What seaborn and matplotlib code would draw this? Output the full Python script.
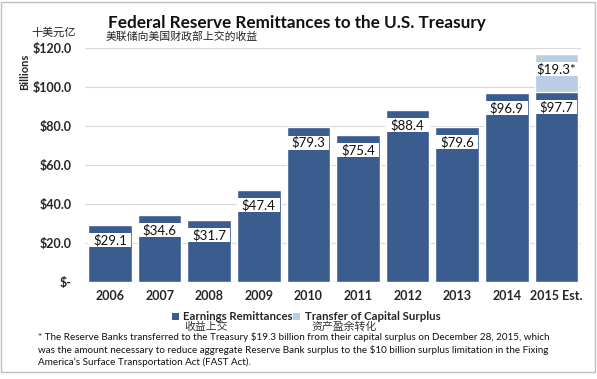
import matplotlib
matplotlib.use("Agg")
import matplotlib.pyplot as plt
import seaborn as sns
import pandas as pd
from matplotlib.patches import Rectangle

years = ["2006", "2007", "2008", "2009", "2010", "2011", "2012", "2013", "2014", "2015 Est."]
earnings = [29.1, 34.6, 31.7, 47.4, 79.3, 75.4, 88.4, 79.6, 96.9, 97.7]
surplus = [0, 0, 0, 0, 0, 0, 0, 0, 0, 19.3]
yticks = [0, 20, 40, 60, 80, 100, 120]
ytick_labels = ["$-", "$20.0", "$40.0", "$60.0", "$80.0", "$100.0", "$120.0"]

sns.set_theme(style="white")
plt.rcParams['font.family'] = ['Lato', 'Noto Sans CJK SC', 'DejaVu Sans']

dark = "#3B5C8F"
light = "#B9CDE5"

df = pd.DataFrame({"year": years, "earnings": earnings, "surplus": surplus})
df["total"] = df["earnings"] + df["surplus"]

fig = plt.figure(figsize=(5.97, 3.79), dpi=100)
ax = fig.add_axes([0.1427, 0.256, 0.831, 0.617])

sns.barplot(data=df, x="year", y="total", color=light, saturation=1, width=0.88, ax=ax, zorder=2)
sns.barplot(data=df, x="year", y="earnings", color=dark, saturation=1, width=0.88, ax=ax, zorder=3)

ax.set_xlim(-0.5, len(years) - 0.5)
ax.set_ylim(0, 120)
ax.set_yticks(yticks)
ax.set_yticklabels(ytick_labels, fontsize=9, fontweight="bold")
ax.set_xticks(range(len(years)))
ax.set_xticklabels(years, fontsize=9, fontweight="bold")
ax.tick_params(axis="y", length=0, pad=9.5)
ax.tick_params(axis="x", length=0, pad=6)
ax.set_xlabel("")
ax.set_ylabel("")
ax.yaxis.grid(True, color="#D9D9D9", linewidth=0.8, zorder=0)
ax.set_axisbelow(True)
for s in ax.spines.values():
    s.set_visible(False)

labels = []
for i, (e, sp) in enumerate(zip(earnings, surplus)):
    labels.append(ax.text(i, e - 7.8, f"${e}", ha="center", va="center", fontsize=9.5,
                          color="#111111", zorder=6))
    if sp > 0:
        labels.append(ax.text(i, e + sp - 7.8, f"${sp}*", ha="center", va="center", fontsize=9.5,
                              color="#111111", zorder=6))

# white label boxes sized to the text
fig.canvas.draw()
renderer = fig.canvas.get_renderer()
inv = ax.transData.inverted()
for t in labels:
    bb = t.get_window_extent(renderer)
    cx, cy = t.get_position()
    x0, _ = inv.transform((bb.x0 - 4, 0))
    x1, _ = inv.transform((bb.x1 + 4, 0))
    _, ycpix = ax.transData.transform((cx, cy))
    _, y0 = inv.transform((0, ycpix - 7))
    _, y1 = inv.transform((0, ycpix + 7))
    ax.add_patch(Rectangle((x0, y0), x1 - x0, y1 - y0, facecolor="white", edgecolor="none", zorder=5))

fig.text(0.497, 0.94, "Federal Reserve Remittances to the U.S. Treasury", ha="center", va="center",
         fontsize=12.3, fontweight="bold", color="#111111")
fig.text(0.176, 0.905, "美联储向美国财政部上交的收益", ha="left", va="center", fontsize=7.8, color="#222222")
fig.text(0.09, 0.915, "十美元亿", ha="center", va="center", fontsize=8, color="#222222")
fig.text(0.042, 0.81, "Billions", ha="center", va="center", rotation=90, fontsize=8, fontweight="bold")

# legend
fig.patches.append(Rectangle((0.288, 0.156), 0.0117, 0.0185, transform=fig.transFigure, facecolor=dark, edgecolor="none"))
fig.text(0.3065, 0.166, "Earnings Remittances", ha="left", va="center", fontsize=8.2, fontweight="bold")
fig.text(0.308, 0.139, "收益上交", ha="left", va="center", fontsize=7.8, color="#333333")
fig.patches.append(Rectangle((0.491, 0.156), 0.0117, 0.0185, transform=fig.transFigure, facecolor=light, edgecolor="none"))
fig.text(0.511, 0.166, "Transfer of Capital Surplus", ha="left", va="center", fontsize=8.2, fontweight="bold")
fig.text(0.522, 0.139, "资产盈余转化", ha="left", va="center", fontsize=7.8, color="#333333")

foot = ("* The Reserve Banks transferred to the Treasury $19.3 billion from their capital surplus on December 28, 2015, which\n"
        "was the amount necessary to reduce aggregate Reserve Bank surplus to the $10 billion surplus limitation in the Fixing\n"
        "America\u2019s Surface Transportation Act (FAST Act).")
fig.text(0.064, 0.078, foot, ha="left", va="center", fontsize=7.1, linespacing=1.3, color="#111111")

fig.patches.append(Rectangle((0.002, 0.018), 0.994, 0.978, transform=fig.transFigure, facecolor="none",
                             edgecolor="#BFBFBF", linewidth=1))

fig.savefig("out.png", dpi=100)
